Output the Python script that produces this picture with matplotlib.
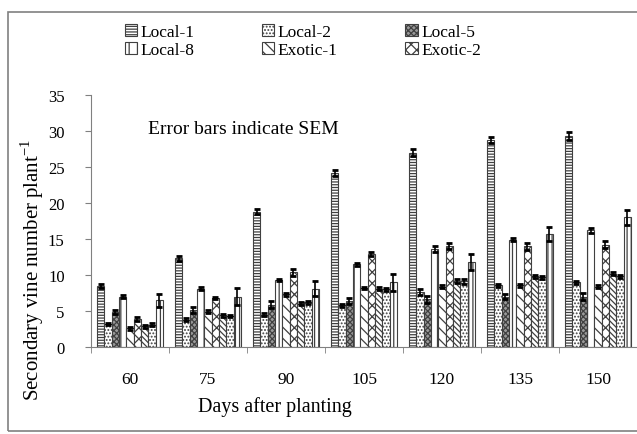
import numpy as np
import matplotlib
matplotlib.use('Agg')
import matplotlib.pyplot as plt
from matplotlib.patches import Rectangle

plt.rcParams['font.family'] = 'Liberation Serif'
plt.rcParams['mathtext.fontset'] = 'custom'
plt.rcParams['mathtext.rm'] = 'Liberation Serif'
plt.rcParams['hatch.linewidth'] = 0.9

# Data
days = ['60', '75', '90', '105', '120', '135', '150']
series_names = ['Local-1', 'Local-2', 'Local-5', 'Local-8', 'Exotic-1', 'Exotic-2', None, None, None]

local_1 = [8.5, 12.3, 18.8, 24.2, 27.0, 28.7, 29.3]
local_2 = [3.2, 3.8, 4.5, 5.8, 7.6, 8.6, 9.0]
local_5 = [4.9, 5.1, 5.9, 6.4, 6.6, 7.0, 7.0]
local_8 = [7.0, 8.1, 9.3, 11.5, 13.6, 14.9, 16.2]
exotic_1 = [2.6, 4.9, 7.3, 8.2, 8.4, 8.6, 8.4]
exotic_2 = [3.9, 6.8, 10.4, 12.9, 14.0, 14.0, 14.2]
series_7 = [2.9, 4.4, 6.0, 8.1, 9.2, 9.8, 10.2]
series_8 = [3.1, 4.3, 6.2, 8.0, 9.1, 9.7, 9.8]
series_9 = [6.5, 7.0, 8.1, 9.0, 11.8, 15.7, 18.0]

err_1 = [0.3, 0.3, 0.3, 0.4, 0.5, 0.4, 0.5]
err_2 = [0.2, 0.2, 0.2, 0.2, 0.4, 0.2, 0.2]
err_5 = [0.3, 0.4, 0.5, 0.4, 0.5, 0.4, 0.5]
err_8 = [0.2, 0.2, 0.2, 0.2, 0.4, 0.2, 0.3]
err_e1 = [0.2, 0.2, 0.2, 0.2, 0.2, 0.2, 0.2]
err_e2 = [0.3, 0.2, 0.5, 0.3, 0.4, 0.5, 0.5]
err_7 = [0.2, 0.2, 0.2, 0.2, 0.3, 0.2, 0.2]
err_8b = [0.2, 0.2, 0.2, 0.2, 0.3, 0.2, 0.2]
err_9 = [0.9, 1.2, 1.0, 1.2, 1.1, 1.0, 1.0]

values = [local_1, local_2, local_5, local_8, exotic_1, exotic_2, series_7, series_8, series_9]
errors = [err_1, err_2, err_5, err_8, err_e1, err_e2, err_7, err_8b, err_9]
hatches = ['------', '.....', 'xxxxxx', '||', '\\\\\\', 'xxx', '\\\\\\\\\\\\', '.....', '||||']
faces = ['white', 'white', '#9a9a9a', 'white', 'white', 'white', 'white', 'white', 'white']

fig = plt.figure(figsize=(6.37, 4.35), dpi=100)
ax = fig.add_axes([91 / 637, 1 - 348 / 435, 546 / 637, 252 / 435])

# outer chart border
fig.patches.append(Rectangle((8 / 637, 3 / 435), 1.0, 1 - 16 / 435,
                             transform=fig.transFigure, fill=False,
                             edgecolor='#808080', linewidth=1.2))

x = np.arange(len(days))
w = 0.094
handles = []
for i, (vals, errs) in enumerate(zip(values, errors)):
    pos = x + (i - 4) * w
    b = ax.bar(pos, vals, w, color=faces[i], edgecolor='#404040', hatch=hatches[i],
               linewidth=0.8, yerr=errs, capsize=2.5,
               error_kw=dict(ecolor='black', elinewidth=1.2, capthick=2.0))
    if series_names[i]:
        b.set_label(series_names[i])
        handles.append(b)

ax.set_xlim(-0.5, 6.5)
ax.set_ylim(0, 35)
ax.set_yticks(np.arange(0, 36, 5))
ax.set_xticks(x)
ax.set_xticklabels(days)
ax.set_xticks(np.arange(-0.5, 7, 1), minor=True)
ax.tick_params(axis='x', which='major', length=0, pad=17, labelsize=12.5)
ax.tick_params(axis='x', which='minor', length=4, color='#808080')
ax.tick_params(axis='y', length=4, color='#808080', pad=15, labelsize=12)
for s in ['top', 'right']:
    ax.spines[s].set_visible(False)
for s in ['left', 'bottom']:
    ax.spines[s].set_color('#808080')

ax.text(0.23, 30.3, 'Error bars indicate SEM', fontsize=14, va='center', ha='left')

fig.text(32 / 637, 1 - 270 / 435, 'Secondary vine number plant$^{-1}$', rotation=90,
         ha='center', va='center', fontsize=15)
fig.text(275 / 637, 1 - 407 / 435, 'Days after planting', ha='center', va='center', fontsize=14.5)

order = [0, 3, 1, 4, 2, 5]
fig.legend([handles[k] for k in order], [series_names[k] for k in order], ncol=3,
           loc='upper left', bbox_to_anchor=(118 / 637, 1 - 18 / 435), frameon=False,
           fontsize=12.5, handlelength=0.7, handleheight=0.7, handletextpad=0.2,
           columnspacing=3.9, labelspacing=0.1, borderaxespad=0)

fig.savefig('out.png', dpi=100)
